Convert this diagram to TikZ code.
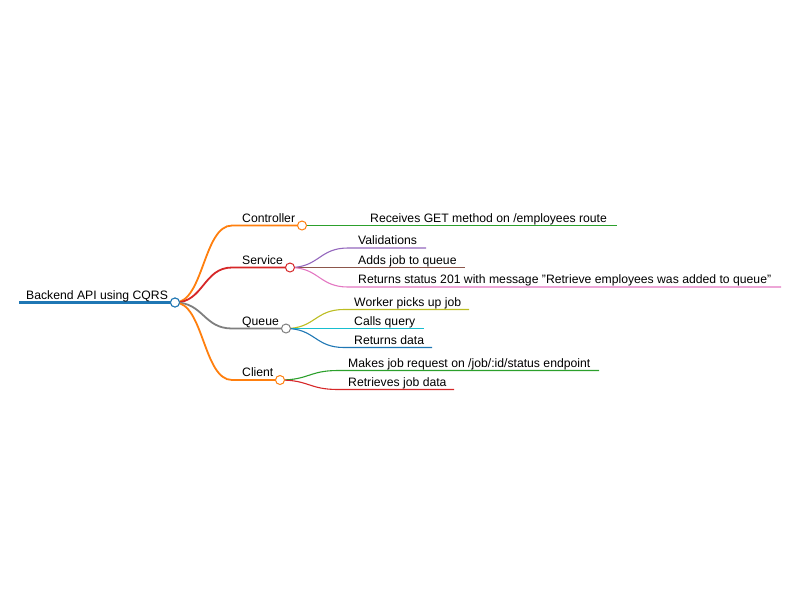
\documentclass[tikz,border=0pt]{standalone}
\usepackage{fontspec}
\setmainfont{Liberation Sans}
\definecolor{cblue}{HTML}{1F77B4}
\definecolor{corange}{HTML}{FF7F0E}
\definecolor{cgreen}{HTML}{2CA02C}
\definecolor{cred}{HTML}{D62728}
\definecolor{cpurple}{HTML}{9467BD}
\definecolor{cbrown}{HTML}{8C564B}
\definecolor{cpink}{HTML}{E377C2}
\definecolor{cgray}{HTML}{7F7F7F}
\definecolor{colive}{HTML}{BCBD22}
\definecolor{ccyan}{HTML}{17BECF}
\begin{document}
\begin{tikzpicture}[x=1pt,y=-1pt,
  lbl/.style={anchor=base west, inner sep=0pt, font=\fontsize{12.2}{14}\selectfont},
  dot/.style={circle, draw, fill=white, minimum size=9pt, inner sep=0pt, line width=1pt},
  rootline/.style={line width=3pt},
  lvlone/.style={line width=1.8pt},
  lvltwo/.style={line width=1.1pt}]
\useasboundingbox (0,0) rectangle (800,600);

% ---------- coordinates ----------
\coordinate (rootS) at (19,302.5);
\node[dot, draw=cblue] (rootC) at (175,302.5) {};

\coordinate (ctlS) at (232,225.5);
\coordinate (svcS) at (232,267.5);
\coordinate (queS) at (232,328.5);
\coordinate (cliS) at (232,380);

\coordinate (ctlC0) at (302,225.5);
\coordinate (svcC0) at (290,267.5);
\coordinate (queC0) at (286,328.5);
\coordinate (cliC0) at (280,380);

% level-2 line starts and ends
\coordinate (c1S) at (360,225.5);   \coordinate (c1E) at (617,225.5);
\coordinate (s1S) at (348,248);     \coordinate (s1E) at (426,248);
\coordinate (s2S) at (348,267.5);   \coordinate (s2E) at (465,267.5);
\coordinate (s3S) at (348,287);     \coordinate (s3E) at (781,287);
\coordinate (q1S) at (344,309.5);   \coordinate (q1E) at (469,309.5);
\coordinate (q2S) at (344,328.5);   \coordinate (q2E) at (424,328.5);
\coordinate (q3S) at (344,347.5);   \coordinate (q3E) at (432,347.5);
\coordinate (k1S) at (338,370.5);   \coordinate (k1E) at (599,370.5);
\coordinate (k2S) at (338,389.5);   \coordinate (k2E) at (454,389.5);

% ---------- connectors ----------
\draw[cblue, rootline] (rootS) -- (rootC.center);

\draw[corange, lvlone] (rootC.center) .. controls +(28.5,0) and +(-28.5,0) .. (ctlS) -- (ctlC0);
\draw[cred, lvlone] (rootC.center) .. controls +(28.5,0) and +(-28.5,0) .. (svcS) -- (svcC0);
\draw[cgray, lvlone] (rootC.center) .. controls +(28.5,0) and +(-28.5,0) .. (queS) -- (queC0);
\draw[corange, lvlone] (rootC.center) .. controls +(28.5,0) and +(-28.5,0) .. (cliS) -- (cliC0);

\draw[cgreen, lvltwo] (ctlC0) -- (c1S) -- (c1E);

\draw[cpurple, lvltwo] (svcC0) .. controls +(29,0) and +(-29,0) .. (s1S) -- (s1E);
\draw[cbrown, lvltwo] (svcC0) -- (s2S) -- (s2E);
\draw[cpink, lvltwo] (svcC0) .. controls +(29,0) and +(-29,0) .. (s3S) -- (s3E);

\draw[colive, lvltwo] (queC0) .. controls +(29,0) and +(-29,0) .. (q1S) -- (q1E);
\draw[ccyan, lvltwo] (queC0) -- (q2S) -- (q2E);
\draw[cblue, lvltwo] (queC0) .. controls +(29,0) and +(-29,0) .. (q3S) -- (q3E);

\draw[cgreen, lvltwo] (cliC0) .. controls +(29,0) and +(-29,0) .. (k1S) -- (k1E);
\draw[cred, lvltwo] (cliC0) .. controls +(29,0) and +(-29,0) .. (k2S) -- (k2E);

% ---------- circles on top ----------
\node[dot, draw=cblue] (rootC2) at (rootC) {};
\node[dot, draw=corange] (ctlC) at (ctlC0) {};
\node[dot, draw=cred] (svcC) at (svcC0) {};
\node[dot, draw=cgray] (queC) at (queC0) {};
\node[dot, draw=corange] (cliC) at (cliC0) {};

% ---------- labels ----------
\node[lbl] (rootL) at (26,299) {Backend API using CQRS};
\node[lbl] (ctlL) at (242,222) {Controller};
\node[lbl] (svcL) at (242,264) {Service};
\node[lbl] (queL) at (242,325) {Queue};
\node[lbl] (cliL) at (242,376.5) {Client};

\node[lbl] (c1L) at (370,222) {Receives GET method on /employees route};
\node[lbl] (s1L) at (358,244.5) {Validations};
\node[lbl] (s2L) at (358,264) {Adds job to queue};
\node[lbl] (s3L) at (358,283.5) {Returns status 201 with message "Retrieve employees was added to queue"};
\node[lbl] (q1L) at (354,306) {Worker picks up job};
\node[lbl] (q2L) at (354,325) {Calls query};
\node[lbl] (q3L) at (354,344) {Returns data};
\node[lbl] (k1L) at (348,367) {Makes job request on /job/:id/status endpoint};
\node[lbl] (k2L) at (348,386) {Retrieves job data};
\end{tikzpicture}
\end{document}
